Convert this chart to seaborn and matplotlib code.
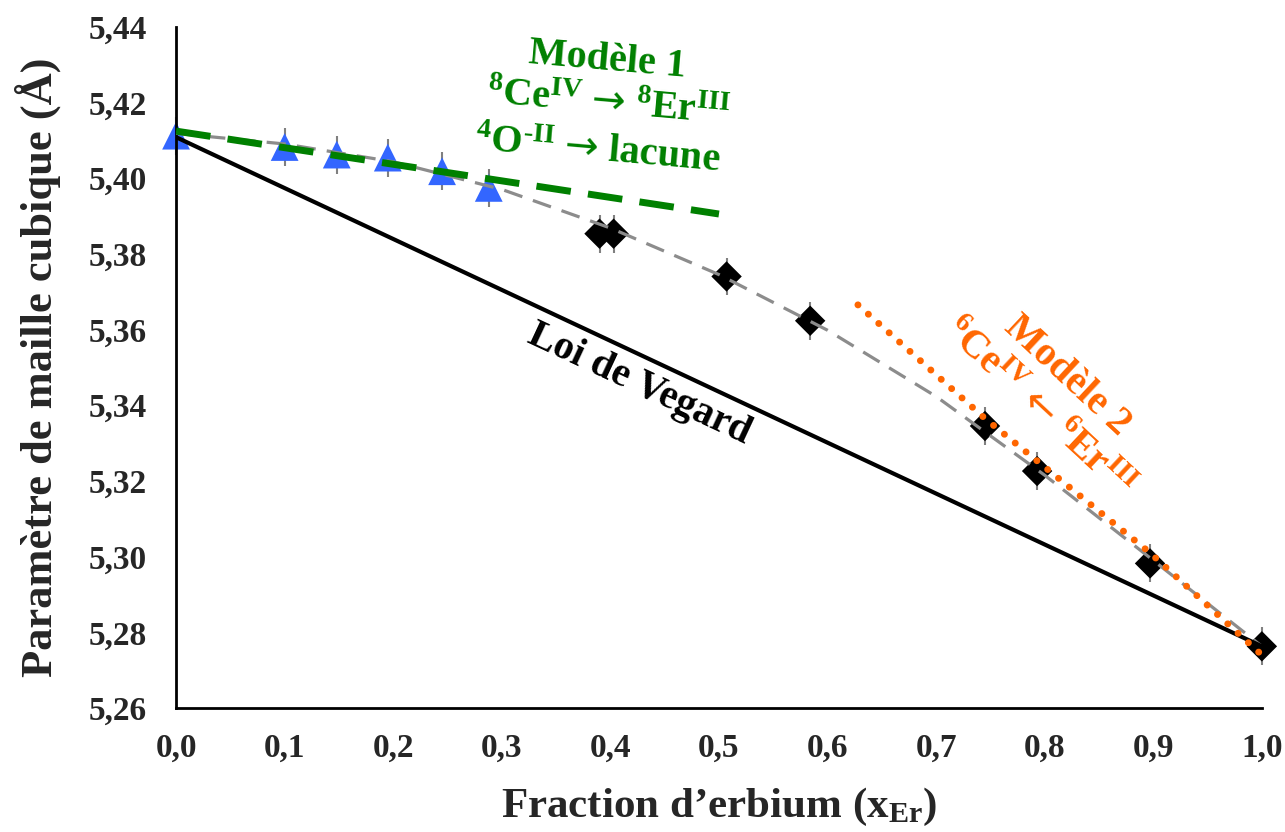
import matplotlib
matplotlib.use("Agg")
import matplotlib.pyplot as plt
import seaborn as sns
import pandas as pd

# Donnees
x_tri = [0.0, 0.100, 0.148, 0.195, 0.245, 0.288]
y_tri = [5.4112, 5.4082, 5.4062, 5.4054, 5.4018, 5.3974]

x_dia = [0.390, 0.403, 0.507, 0.584, 0.745, 0.793, 0.897, 1.000]
y_dia = [5.3853, 5.3853, 5.3740, 5.3623, 5.3345, 5.3226, 5.2982, 5.2763]

err = 0.005

# courbe d'ajustement (grise)
x_fit = [0.0, 0.1, 0.2, 0.3, 0.4, 0.5, 0.6, 0.7, 0.8, 0.9, 1.0]
y_fit = [5.4118, 5.4090, 5.4043, 5.3970, 5.3868, 5.3745, 5.3598, 5.3423, 5.3215, 5.2990, 5.2763]

# loi de Vegard
x_veg = [0.0, 1.0]
y_veg = [5.4108, 5.2763]

# modele 1
x_m1 = [0.0, 0.5]
y_m1 = [5.4124, 5.3905]

# modele 2
x_m2 = [0.628, 0.745, 0.897, 1.0]
y_m2 = [5.3665, 5.3365, 5.3010, 5.2740]

sns.set_style("white")
plt.rcParams["font.family"] = ["Liberation Serif", "DejaVu Serif"]
plt.rcParams["font.weight"] = "bold"
plt.rcParams["mathtext.fontset"] = "custom"
plt.rcParams["mathtext.rm"] = "Liberation Serif:bold"
plt.rcParams["mathtext.it"] = "Liberation Serif:bold"
plt.rcParams["mathtext.bf"] = "Liberation Serif:bold"
plt.rcParams["mathtext.sf"] = "DejaVu Sans:weight=normal"

fig, ax = plt.subplots(figsize=(12.85, 8.32), dpi=100)
fig.subplots_adjust(left=0.137, right=0.982, top=0.968, bottom=0.149)

# barres d'erreur
ax.errorbar(x_tri + x_dia, y_tri + y_dia, yerr=err, fmt="none",
            ecolor="#808080", elinewidth=1.5, zorder=1, clip_on=False)

df_tri = pd.DataFrame({"x": x_tri, "y": y_tri})
df_dia = pd.DataFrame({"x": x_dia, "y": y_dia})
sns.scatterplot(data=df_tri, x="x", y="y", marker="^", s=400, color="#3366ff",
                edgecolor="none", ax=ax, zorder=2, clip_on=False)
sns.scatterplot(data=df_dia, x="x", y="y", marker="D", s=240, color="black",
                edgecolor="none", ax=ax, zorder=2, clip_on=False)

sns.lineplot(x=x_fit, y=y_fit, color="#8c8c8c", lw=2.3, ax=ax, zorder=3,
             linestyle=(0, (6, 3.5)))
sns.lineplot(x=x_veg, y=y_veg, color="black", lw=3, ax=ax, zorder=3)
sns.lineplot(x=x_m1, y=y_m1, color="#008000", lw=5, ax=ax, zorder=4,
             linestyle=(0, (5, 2.5)))
sns.lineplot(x=x_m2, y=y_m2, color="#ff6600", lw=5, ax=ax, zorder=4,
             linestyle=(0, (0.01, 2.0)), solid_capstyle="round",
             dash_capstyle="round", clip_on=False)

ax.set_xlim(0, 1.0)
ax.set_ylim(5.26, 5.44)
ax.set_xticks([i / 10 for i in range(11)])
ax.set_yticks([5.26 + 0.02 * i for i in range(10)])
ax.set_xticklabels([f"{i / 10:.1f}".replace(".", ",") for i in range(11)])
ax.set_yticklabels([f"{5.26 + 0.02 * i:.2f}".replace(".", ",") for i in range(10)])
ax.tick_params(axis="both", direction="out", length=8, width=1.5,
               labelsize=24, color="black", pad=10)
ax.tick_params(axis="y", pad=13)
for lab in ax.get_xticklabels() + ax.get_yticklabels():
    lab.set_fontweight("bold")

sns.despine(ax=ax)
ax.spines["left"].set_linewidth(2)
ax.spines["bottom"].set_linewidth(2)
ax.spines["left"].set_color("black")
ax.spines["bottom"].set_color("black")

ax.set_xlabel("Fraction d’erbium (x$_{Er}$)", fontsize=31, fontweight="bold",
              labelpad=16)
ax.set_ylabel("Paramètre de maille cubique (Å)", fontsize=32, fontweight="bold",
              labelpad=20)

green = "#008000"
orange = "#ff6600"
fs = 29
ax.text(0.397, 5.4310, "Modèle 1", color=green, fontsize=fs, fontweight="bold",
        rotation=-5, ha="center", va="center")
ax.text(0.398, 5.4196, "$^{8}$Ce$^{IV}$ $\\mathsf{→}$ $^{8}$Er$^{III}$", color=green,
        fontsize=fs, fontweight="bold", rotation=-5, ha="center", va="center")
ax.text(0.388, 5.4072, "$^{4}$O$^{\u2010II}$ $\\mathsf{→}$ lacune", color=green,
        fontsize=fs, fontweight="bold", rotation=-5, ha="center", va="center")
ax.text(0.427, 5.3455, "Loi de Vegard", color="black", fontsize=fs,
        fontweight="bold", rotation=-25, ha="center", va="center")
ax.text(0.821, 5.3478, "Modèle 2", color=orange, fontsize=fs,
        fontweight="bold", rotation=-43, ha="center", va="center")
ax.text(0.794, 5.3392, "$^{6}$Ce$^{IV}$ $\\mathsf{←}$ $^{6}$Er$^{III}$", color=orange,
        fontsize=fs, fontweight="bold", rotation=-43, ha="center", va="center")

ax.set_facecolor("white")
fig.savefig("out.png", dpi=100, facecolor="white")
